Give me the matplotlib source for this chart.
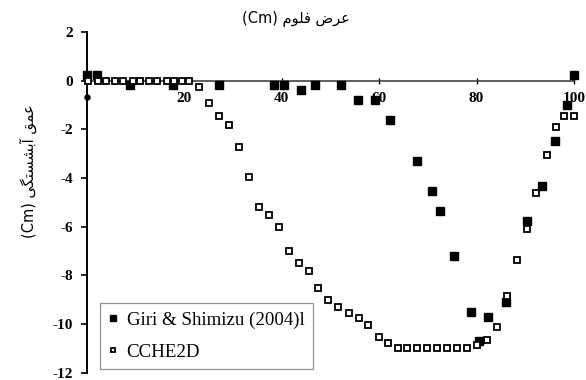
import matplotlib
matplotlib.use("Agg")
import matplotlib.pyplot as plt

# Giri & Shimizu (2004) measured bed profile
giri_x = [0, 2.1, 8.8, 17.7, 27.2, 38.3, 40.5, 44.0, 46.9, 52.2, 55.6, 59.1, 62.2,
          67.8, 70.9, 72.5, 75.4, 78.8, 80.5, 82.3, 86.0, 90.4, 93.4, 96.0, 98.5, 99.9]
giri_y = [0.23, 0.23, -0.18, -0.18, -0.18, -0.18, -0.18, -0.39, -0.18, -0.18, -0.8, -0.8, -1.62,
          -3.29, -4.52, -5.36, -7.2, -9.49, -10.7, -9.7, -9.08, -5.77, -4.32, -2.47, -1.0, 0.23]

# extra point on the wall
wall_x = [0]
wall_y = [-0.69]

# CCHE2D simulated profile
cche_x = [0.2, 2.2, 3.9, 5.7, 7.4, 9.4, 10.9, 12.7, 14.4, 16.4, 17.9, 19.5, 21.0,
          23.0, 25.1, 27.1, 29.2, 31.2, 33.2, 35.3, 37.3, 39.4, 41.4, 43.5, 45.5,
          47.5, 49.5, 51.6, 53.7, 55.8, 57.8, 59.9, 61.9, 63.9, 65.8, 67.8, 69.9,
          71.9, 74.0, 76.0, 78.0, 80.0, 82.1, 84.1, 86.3, 88.2, 90.4, 92.3, 94.4,
          96.3, 98.0, 99.9]
cche_y = [0, 0, 0, 0, 0, 0, 0, 0, 0, 0, 0, 0, 0,
          -0.25, -0.91, -1.44, -1.81, -2.74, -3.95, -5.19, -5.51, -6.0, -6.99, -7.48, -7.82,
          -8.52, -9.01, -9.29, -9.53, -9.76, -10.04, -10.52, -10.79, -10.99, -10.97, -10.97, -10.99,
          -10.99, -10.99, -10.99, -10.99, -10.86, -10.65, -10.1, -8.83, -7.37, -6.09, -4.6, -3.06,
          -1.92, -1.45, -1.45]

x_ticks = [20, 40, 60, 80, 100]
y_ticks = [-12, -10, -8, -6, -4, -2, 0, 2]

title_text = "عرض فلوم"
ylabel_text = "عمق آبشستگی"
unit_text = "(Cm)"

# contextual forms: isolated, final, initial, medial
FORMS = {
    'ع': '\uFEC9\uFECA\uFECB\uFECC',
    'ض': '\uFEBD\uFEBE\uFEBF\uFEC0',
    'ف': '\uFED1\uFED2\uFED3\uFED4',
    'ل': '\uFEDD\uFEDE\uFEDF\uFEE0',
    'م': '\uFEE1\uFEE2\uFEE3\uFEE4',
    'ق': '\uFED5\uFED6\uFED7\uFED8',
    'ب': '\uFE8F\uFE90\uFE91\uFE92',
    'ش': '\uFEB5\uFEB6\uFEB7\uFEB8',
    'س': '\uFEB1\uFEB2\uFEB3\uFEB4',
    'ت': '\uFE95\uFE96\uFE97\uFE98',
    'گ': '\uFB92\uFB93\uFB94\uFB95',
    'ی': '\uFBFC\uFBFD\uFBFE\uFBFF',
    'ر': '\uFEAD\uFEAE',
    'و': '\uFEED\uFEEE',
    'آ': '\uFE81\uFE82',
}
DUAL = set('عضفلمقبشستگی')


def shape(word):
    out = []
    for i, ch in enumerate(word):
        prev = word[i - 1] if i > 0 else ''
        nxt = word[i + 1] if i + 1 < len(word) else ''
        jp = prev in DUAL
        jn = ch in DUAL and nxt in FORMS
        f = FORMS[ch]
        if jp and jn:
            out.append(f[3])
        elif jp:
            out.append(f[1])
        elif jn:
            out.append(f[2])
        else:
            out.append(f[0])
    return ''.join(reversed(out))


def rtl(text, unit):
    return unit + ' ' + ' '.join(shape(w) for w in reversed(text.split()))


fig = plt.figure(figsize=(5.86, 3.80), dpi=100)
ax = fig.add_axes([0.1485, 0.019, 0.831, 0.8968])

ax.plot(giri_x, giri_y, 's', color='black', markersize=5.2, clip_on=False,
        label='Giri & Shimizu (2004)l', zorder=3)
ax.plot(wall_x, wall_y, 'o', color='black', markersize=3.6, clip_on=False, zorder=3)
ax.plot(cche_x, cche_y, 's', markerfacecolor='white', markeredgecolor='black',
        markeredgewidth=1.3, markersize=5.0, clip_on=False, label='CCHE2D', zorder=4)

ax.set_xlim(0, 100)
ax.set_ylim(-12, 2)
ax.spines['top'].set_visible(False)
ax.spines['right'].set_visible(False)
ax.spines['bottom'].set_position(('data', 0))
ax.spines['left'].set_linewidth(1.4)
ax.spines['bottom'].set_linewidth(1.1)
ax.spines['bottom'].set_color('#333333')

ax.set_xticks(x_ticks)
ax.set_yticks(y_ticks)
ax.set_yticklabels([str(v) for v in y_ticks])
ax.tick_params(axis='x', direction='inout', length=5, width=1, pad=6)
ax.tick_params(axis='y', direction='out', length=4, width=1.2, pad=6)
for lab in ax.get_xticklabels() + ax.get_yticklabels():
    lab.set_fontfamily('Liberation Serif')
    lab.set_fontweight('bold')
    lab.set_fontsize(11)

leg = ax.legend(loc='lower left', bbox_to_anchor=(0.027, 0.011), borderaxespad=0,
                frameon=True, fancybox=False, edgecolor='#777777', handlelength=0.5,
                handletextpad=0.45, labelspacing=0.75, borderpad=0.45,
                prop={'family': 'Liberation Serif', 'size': 13.6}, markerscale=0.7)
leg.get_frame().set_linewidth(0.9)

fig.text(0.505, 0.95, rtl(title_text, unit_text), ha='center', va='center',
         fontsize=10.5, family='DejaVu Sans')
fig.text(0.048, 0.55, rtl(ylabel_text, unit_text), ha='center', va='center',
         rotation=90, fontsize=10.5, family='DejaVu Sans')

fig.savefig('out.png', dpi=100)
